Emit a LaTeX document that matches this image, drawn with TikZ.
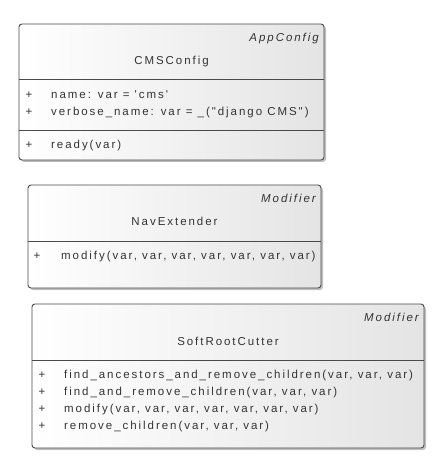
\documentclass[tikz,border=0pt]{standalone}
\usepackage{fontspec}
\newfontfamily\umlfont{Liberation Sans}[LetterSpace=17]
\usetikzlibrary{shadows}
\definecolor{umlborder}{HTML}{4A4A4A}
\definecolor{umlright}{HTML}{E4E4E4}
\begin{document}
\begin{tikzpicture}[x=1pt,y=-1pt,
  classbox/.style={draw=umlborder, line width=0.9pt, rounded corners=3pt,
    left color=white, right color=umlright, inner sep=0pt,
    drop shadow={shadow xshift=2pt, shadow yshift=-2pt, fill=black, opacity=0.25}},
  divline/.style={draw=umlborder, line width=0.9pt},
  txt/.style={inner sep=0pt, font=\umlfont\fontsize{11.5}{13}\selectfont, text=black!80},
  stereo/.style={txt, anchor=mid east, font=\umlfont\fontsize{11.5}{13}\selectfont\itshape},
  cname/.style={txt, anchor=mid},
  member/.style={txt, anchor=mid west},
  vis/.style={txt, anchor=mid}
]
\useasboundingbox (0,0) rectangle (440,470);

% ---------- CMSConfig ----------
\node[classbox, minimum width=305pt, minimum height=136pt] (b1) at (171.5,92) {};
\node[stereo] (b1s) at (319,39) {AppConfig};
\node[cname] (b1n) at (171.5,62) {CMSConfig};
\coordinate (b1d1) at (0,79);
\coordinate (b1d2) at (0,130);
\draw[divline] (b1.west |- b1d1) -- (b1.east |- b1d1);
\draw[divline] (b1.west |- b1d2) -- (b1.east |- b1d2);
\node[vis] (b1p1) at (29,96) {+};
\node[member] (b1a1) at (51,96) {name: var = 'cms'};
\node[vis] (b1p2) at (29,113) {+};
\node[member] (b1a2) at (51,113) {verbose\_name: var = \_("django CMS")};
\node[vis] (b1p3) at (29,146) {+};
\node[member] (b1m1) at (51,146) {ready(var)};

% ---------- NavExtender ----------
\node[classbox, minimum width=293pt, minimum height=103pt] (b2) at (174.5,236.5) {};
\node[stereo] (b2s) at (316,200) {Modifier};
\node[cname] (b2n) at (174.5,223) {NavExtender};
\coordinate (b2d1) at (0,241);
\draw[divline] (b2.west |- b2d1) -- (b2.east |- b2d1);
\node[vis] (b2p1) at (37,257) {+};
\node[member] (b2m1) at (61,257) {modify(var, var, var, var, var, var, var)};

% ---------- SoftRootCutter ----------
\node[classbox, minimum width=392pt, minimum height=144pt] (b3) at (228,376) {};
\node[stereo] (b3s) at (419,319) {Modifier};
\node[cname] (b3n) at (228,343) {SoftRootCutter};
\coordinate (b3d1) at (0,360);
\draw[divline] (b3.west |- b3d1) -- (b3.east |- b3d1);
\node[vis] (b3p1) at (42,376) {+};
\node[member] (b3m1) at (64,376) {find\_ancestors\_and\_remove\_children(var, var, var)};
\node[vis] (b3p2) at (42,393) {+};
\node[member] (b3m2) at (64,393) {find\_and\_remove\_children(var, var, var)};
\node[vis] (b3p3) at (42,410) {+};
\node[member] (b3m3) at (64,410) {modify(var, var, var, var, var, var, var)};
\node[vis] (b3p4) at (42,427) {+};
\node[member] (b3m4) at (64,427) {remove\_children(var, var, var)};
\end{tikzpicture}
\end{document}
